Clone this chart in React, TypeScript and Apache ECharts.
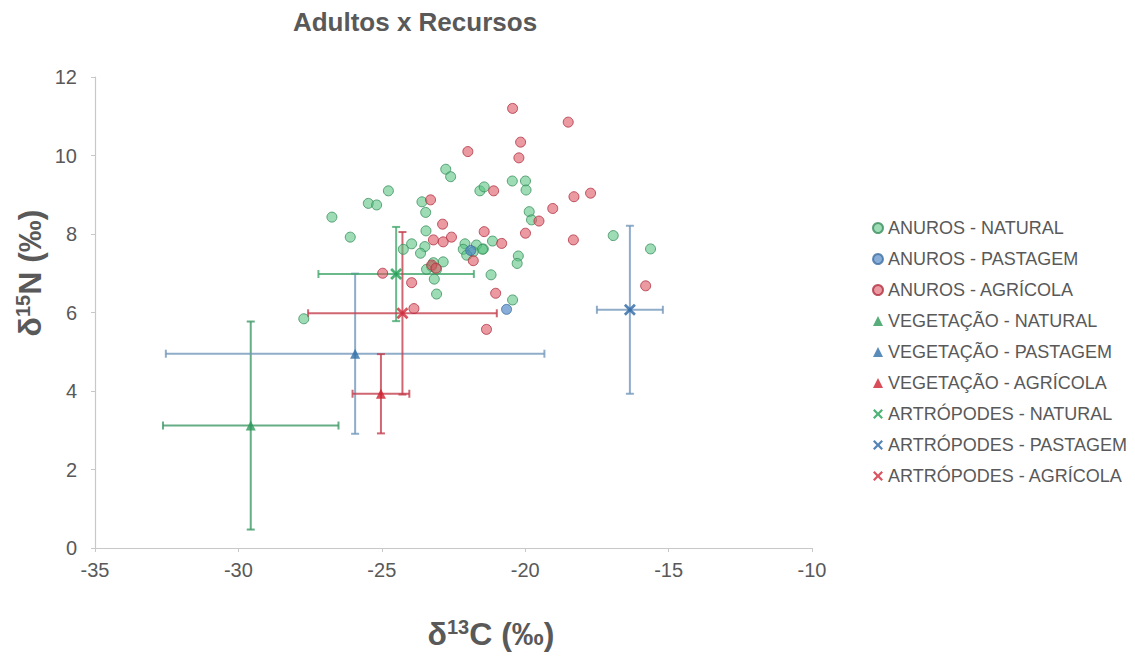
import React, { useEffect, useRef } from "react";
import * as echarts from "echarts";

const titleText = "Adultos x Recursos";
const xTicks = { min: -35, max: -10, interval: 5 };
const yTicks = { min: 0, max: 12, interval: 2 };

const anurosNatural: number[][] = [
  [-26.74, 8.43], [-26.1, 7.92], [-27.72, 5.84], [-25.47, 8.78], [-25.18, 8.74],
  [-24.77, 9.1], [-22.77, 9.65], [-22.6, 9.46], [-23.6, 8.82], [-23.47, 8.55],
  [-23.46, 8.08], [-21.58, 9.1], [-21.43, 9.2], [-20.45, 9.35], [-19.99, 9.35],
  [-19.97, 9.12], [-19.86, 8.57], [-19.78, 8.36], [-16.93, 7.96], [-15.63, 7.62],
  [-21.14, 7.82], [-21.46, 7.62], [-20.24, 7.44], [-20.28, 7.25], [-21.19, 6.96],
  [-20.44, 6.32], [-23.96, 7.75], [-24.25, 7.61], [-23.5, 7.68], [-23.65, 7.51],
  [-22.1, 7.75], [-21.7, 7.72], [-21.49, 7.61], [-22.16, 7.61], [-21.81, 7.55],
  [-22.04, 7.46], [-22.86, 7.29], [-23.2, 7.27], [-23.26, 7.17], [-23.44, 7.1],
  [-23.09, 7.1], [-23.17, 6.85], [-23.09, 6.47],
];
const anurosPastagem: number[][] = [[-20.65, 6.08], [-21.9, 7.58]];
const anurosAgricola: number[][] = [
  [-22.0, 10.1], [-20.44, 11.2], [-18.5, 10.85], [-20.16, 10.34], [-20.22, 9.94],
  [-23.3, 8.87], [-21.1, 9.1], [-22.88, 8.25], [-21.43, 8.06], [-18.3, 8.95],
  [-17.72, 9.04], [-19.04, 8.65], [-19.52, 8.33], [-19.99, 8.02], [-20.82, 7.76],
  [-18.32, 7.85], [-15.8, 6.68], [-21.03, 6.49], [-21.35, 5.57], [-23.2, 7.85],
  [-22.86, 7.8], [-22.57, 7.92], [-21.81, 7.32], [-23.26, 7.21], [-23.11, 7.13],
  [-24.97, 7.0], [-23.96, 6.76], [-23.88, 6.1],
];
// [x, y, xError, yError]
const vegNatural: number[][] = [[-29.57, 3.12, 3.06, 2.65]];
const vegPastagem: number[][] = [[-25.93, 4.95, 6.6, 2.04]];
const vegAgricola: number[][] = [[-25.03, 3.93, 0.99, 1.01]];
const artNatural: number[][] = [[-24.5, 6.98, 2.71, 1.2]];
const artPastagem: number[][] = [[-16.35, 6.07, 1.15, 2.14]];
const artAgricola: number[][] = [[-24.28, 5.98, 3.29, 2.07]];

const seriesNames = [
  "ANUROS - NATURAL",
  "ANUROS - PASTAGEM",
  "ANUROS - AGRÍCOLA",
  "VEGETAÇÃO - NATURAL",
  "VEGETAÇÃO - PASTAGEM",
  "VEGETAÇÃO - AGRÍCOLA",
  "ARTRÓPODES - NATURAL",
  "ARTRÓPODES - PASTAGEM",
  "ARTRÓPODES - AGRÍCOLA",
];

const X_PATH =
  "path://M0,1.6 L1.6,0 L5,3.4 L8.4,0 L10,1.6 L6.6,5 L10,8.4 L8.4,10 L5,6.6 L1.6,10 L0,8.4 L3.4,5 Z";
const FONT = "Liberation Sans, Arial, sans-serif";
const TEXT = "#595959";

function errorSeries(id: string, data: number[][], color: string) {
  return {
    type: "custom",
    name: id,
    data,
    z: 1,
    encode: { x: 0, y: 1 },
    silent: true,
    renderItem: (_params: any, api: any) => {
      const x = api.value(0);
      const y = api.value(1);
      const ex = api.value(2);
      const ey = api.value(3);
      const l = api.coord([x - ex, y]);
      const r = api.coord([x + ex, y]);
      const t = api.coord([x, y + ey]);
      const b = api.coord([x, y - ey]);
      const cap = 4;
      const style = { stroke: color, lineWidth: 2, opacity: 0.8 };
      const ln = (x1: number, y1: number, x2: number, y2: number) => ({
        type: "line",
        shape: { x1, y1, x2, y2 },
        style,
      });
      return {
        type: "group",
        children: [
          ln(l[0], l[1], r[0], r[1]),
          ln(t[0], t[1], b[0], b[1]),
          ln(l[0], l[1] - cap, l[0], l[1] + cap),
          ln(r[0], r[1] - cap, r[0], r[1] + cap),
          ln(t[0] - cap, t[1], t[0] + cap, t[1]),
          ln(b[0] - cap, b[1], b[0] + cap, b[1]),
        ],
      };
    },
  };
}

export default function App() {
  const ref = useRef<HTMLDivElement>(null);
  useEffect(() => {
    if (!ref.current) return;
    const chart = echarts.init(ref.current, undefined, { renderer: "svg" });
    const circle = (name: string, data: number[][], fill: string, border: string) => ({
      type: "scatter",
      name,
      data,
      symbol: "circle",
      symbolSize: 10,
      z: 3,
      itemStyle: { color: fill, borderColor: border, borderWidth: 1 },
    });
    const marker = (
      name: string,
      data: number[][],
      symbol: string,
      size: number,
      color: string
    ) => ({
      type: "scatter",
      name,
      data: data.map((d) => [d[0], d[1]]),
      symbol,
      symbolSize: size,
      z: 4,
      itemStyle: { color },
    });
    const axisName = (sup: string, letter: string) => ({
      text: `{a|δ}{s|${sup}}{a|${letter} (‰)}`,
      fill: TEXT,
      fontFamily: FONT,
      align: "center",
      verticalAlign: "middle",
      rich: {
        a: { fontSize: 32, fontWeight: "bold", fill: TEXT, fontFamily: FONT, lineHeight: 34 },
        s: { fontSize: 20, fontWeight: "bold", fill: TEXT, fontFamily: FONT, verticalAlign: "top", lineHeight: 34 },
      },
    });
    chart.setOption({
      animation: false,
      backgroundColor: "#ffffff",
      textStyle: { fontFamily: FONT },
      grid: { left: 95, right: 323, top: 77, bottom: 109, containLabel: false },
      xAxis: {
        type: "value",
        min: xTicks.min,
        max: xTicks.max,
        interval: xTicks.interval,
        axisLine: { show: true, onZero: false, lineStyle: { color: "#c8c8c8", width: 1.2 } },
        axisTick: { show: true, length: 4, lineStyle: { color: "#c8c8c8" } },
        splitLine: { show: false },
        axisLabel: { color: TEXT, fontSize: 20, margin: 12, fontFamily: FONT },
      },
      yAxis: {
        type: "value",
        min: yTicks.min,
        max: yTicks.max,
        interval: yTicks.interval,
        axisLine: { show: true, onZero: false, lineStyle: { color: "#c8c8c8", width: 1.2 } },
        axisTick: { show: true, length: 4, lineStyle: { color: "#c8c8c8" } },
        splitLine: { show: false },
        axisLabel: { color: TEXT, fontSize: 20, margin: 18, fontFamily: FONT },
      },
      legend: {
        orient: "vertical",
        left: 867,
        top: 213,
        itemWidth: 10,
        itemHeight: 10,
        itemGap: 11,
        data: seriesNames,
        textStyle: { color: TEXT, fontSize: 18, lineHeight: 20, fontFamily: FONT },
      },
      graphic: [
        {
          type: "text",
          x: 415,
          y: 22,
          style: {
            text: titleText,
            fontSize: 26,
            fontWeight: "bold",
            fill: TEXT,
            fontFamily: FONT,
            align: "center",
            verticalAlign: "middle",
          },
        },
        { type: "text", x: 491, y: 634, style: axisName("13", "C") },
        { type: "text", x: 30, y: 273, rotation: Math.PI / 2, style: axisName("15", "N") },
      ],
      series: [
        errorSeries("eb-veg-nat", vegNatural, "#3f9a66"),
        errorSeries("eb-veg-pas", vegPastagem, "#7398bb"),
        errorSeries("eb-veg-agr", vegAgricola, "#c4404f"),
        errorSeries("eb-art-nat", artNatural, "#45a86e"),
        errorSeries("eb-art-pas", artPastagem, "#7398bb"),
        errorSeries("eb-art-agr", artAgricola, "#c4404f"),
        circle(seriesNames[0], anurosNatural, "rgba(92,196,132,0.75)", "#3a8f5c"),
        circle(seriesNames[1], anurosPastagem, "rgba(79,134,198,0.85)", "#3f6fa0"),
        circle(seriesNames[2], anurosAgricola, "rgba(222,86,100,0.75)", "#b03040"),
        marker(seriesNames[3], vegNatural, "triangle", 10, "#2e9a5a"),
        marker(seriesNames[4], vegPastagem, "triangle", 10, "#2f6fa8"),
        marker(seriesNames[5], vegAgricola, "triangle", 10, "#d02030"),
        marker(seriesNames[6], artNatural, X_PATH, 12, "#22a055"),
        marker(seriesNames[7], artPastagem, X_PATH, 12, "#2a66a5"),
        marker(seriesNames[8], artAgricola, X_PATH, 12, "#d02a3a"),
      ],
    });
    return () => chart.dispose();
  }, []);
  return (
    <div
      ref={ref}
      style={{ position: "fixed", left: 0, top: 0, width: 1135, height: 657, background: "#fff" }}
    />
  );
}
